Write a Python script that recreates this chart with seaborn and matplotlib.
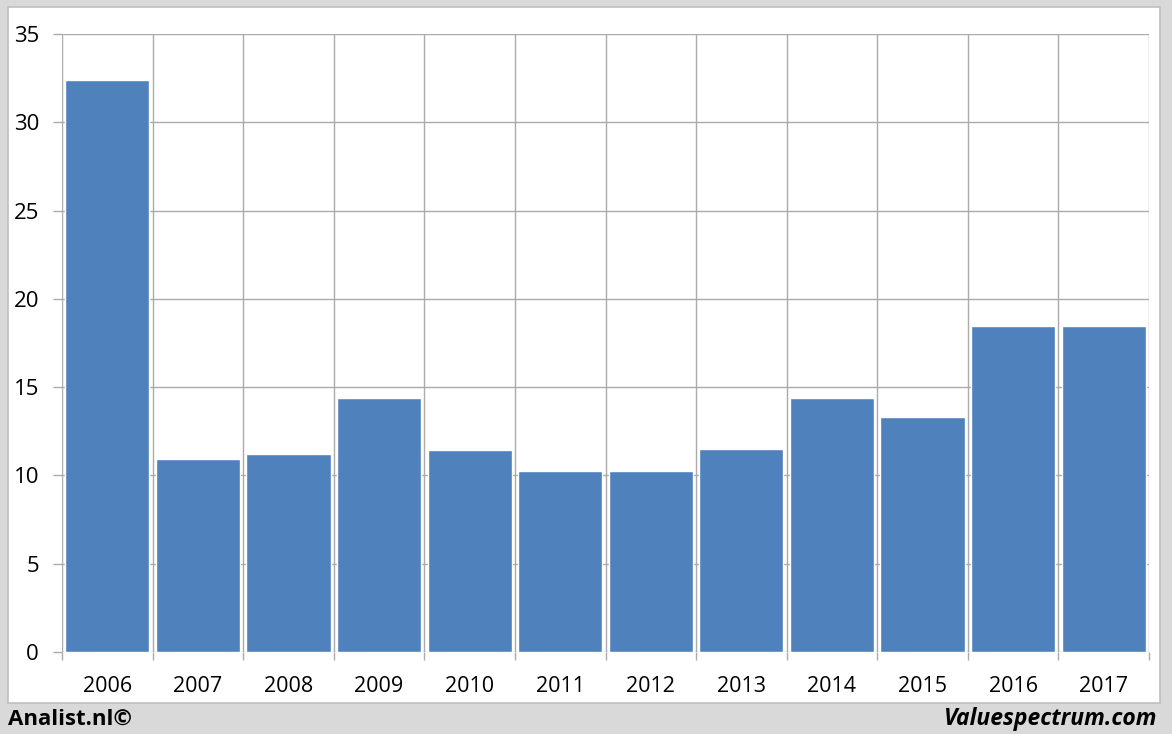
import matplotlib
matplotlib.use("Agg")
import matplotlib.pyplot as plt
import seaborn as sns
import numpy as np
import pandas as pd
from matplotlib.patches import Rectangle

years = ["2006", "2007", "2008", "2009", "2010", "2011", "2012", "2013", "2014", "2015", "2016", "2017"]
values = [32.4, 10.95, 11.2, 14.4, 11.45, 10.25, 10.25, 11.5, 14.4, 13.3, 18.45, 18.45]
y_ticks = [0, 5, 10, 15, 20, 25, 30, 35]

sns.set_theme(style="white")
plt.rcParams['font.family'] = ['Open Sans', 'DejaVu Sans']

W, H = 1172, 734
fig = plt.figure(figsize=(W / 100, H / 100), dpi=100)
fig.patch.set_facecolor('#d9d9d9')

# white inner panel
panel = Rectangle((8 / W, 1 - 703 / H), (1160 - 8) / W, (703 - 7) / H,
                  transform=fig.transFigure, facecolor='white',
                  edgecolor='#bfbfbf', linewidth=1.2, zorder=-10)
fig.patches.append(panel)

ax = fig.add_axes([62 / W, 1 - 652 / H, (1149 - 62) / W, (652 - 34) / H], zorder=1)
ax.set_facecolor('white')

df = pd.DataFrame({"year": years, "value": values})
sns.barplot(data=df, x="year", y="value", color="#4f81bd", saturation=1,
            width=0.93, ax=ax, zorder=3)

ax.set_xlim(-0.5, len(years) - 0.5)
ax.set_ylim(0, 35)
ax.set_yticks(y_ticks)
ax.set_xlabel("")
ax.set_ylabel("")

grid_c = '#ababab'
ax.set_xticks(np.arange(-0.5, len(years), 1.0), minor=True)
ax.grid(True, axis='y', which='major', color=grid_c, linewidth=1.0, zorder=0)
ax.grid(True, axis='x', which='minor', color=grid_c, linewidth=1.0, zorder=0)
ax.grid(False, axis='x', which='major')
ax.set_axisbelow(True)

for s in ax.spines.values():
    s.set_visible(False)

ax.tick_params(axis='x', which='major', length=0, pad=17, labelsize=15.5, colors='black')
ax.tick_params(axis='x', which='minor', length=6, width=1.0, color=grid_c, bottom=True)
ax.tick_params(axis='y', which='major', length=6.5, width=1.0, color=grid_c, left=True,
               pad=10, labelsize=16, labelcolor='black')

fig.text(8 / W, 1 - 719 / H, "Analist.nl©", fontsize=16, fontweight='bold',
         ha='left', va='center', color='black')
fig.text(1157 / W, 1 - 719 / H, "Valuespectrum.com", fontsize=16.5, fontweight='bold',
         fontstyle='italic', ha='right', va='center', color='black')

fig.savefig("out.png", dpi=100, facecolor=fig.get_facecolor())
